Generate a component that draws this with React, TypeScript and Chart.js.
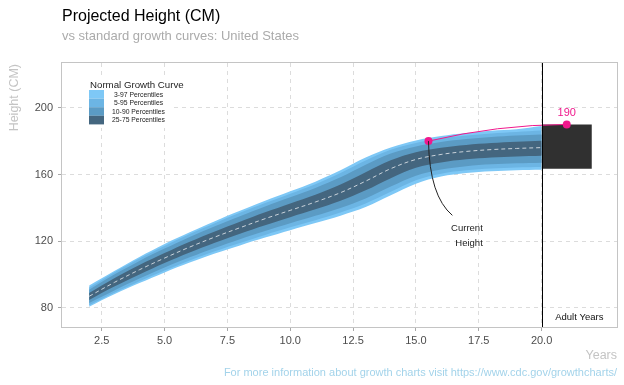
import React, { useEffect, useRef } from "react";
import { Chart, registerables } from "chart.js";

Chart.register(...registerables);

// ---------- data ----------
const AGES = [2, 3, 4, 5, 6, 7, 8, 9, 10, 11, 12, 13, 14, 15, 16, 17, 18, 19, 20];
const P3 = [80.8, 88.2, 94.9, 101.3, 107.2, 112.6, 117.5, 122.2, 126.6, 130.9, 135.3, 140.5, 147.5, 154.5, 158.8, 160.9, 162.0, 162.6, 162.9];
const P5 = [81.7, 89.1, 96.0, 102.5, 108.5, 114.0, 119.0, 123.8, 128.3, 132.6, 137.2, 142.6, 149.6, 156.6, 160.5, 162.5, 163.6, 164.2, 164.5];
const P10 = [83.0, 90.5, 97.6, 104.3, 110.4, 116.0, 121.2, 126.1, 130.7, 135.2, 139.9, 145.6, 152.8, 159.3, 163.0, 165.0, 166.1, 166.7, 167.1];
const P25 = [84.8, 92.8, 100.1, 107.0, 113.3, 119.1, 124.5, 129.6, 134.4, 139.1, 144.2, 150.5, 157.8, 164.0, 167.2, 169.1, 170.2, 170.8, 171.2];
const P50 = [87.0, 95.3, 102.9, 109.9, 116.5, 122.5, 128.1, 133.5, 138.5, 143.5, 149.1, 156.0, 163.5, 169.0, 172.0, 173.8, 174.9, 175.6, 176.1];
const P75 = [89.0, 97.8, 105.7, 112.9, 119.7, 125.9, 131.7, 137.3, 142.6, 147.9, 154.0, 161.3, 168.5, 173.3, 176.0, 177.7, 178.8, 179.6, 180.2];
const P90 = [90.9, 100.0, 108.2, 115.6, 122.6, 129.0, 135.0, 140.8, 146.3, 151.9, 158.3, 165.8, 172.5, 176.8, 179.4, 181.2, 182.4, 183.3, 184.0];
const P95 = [92.2, 101.3, 109.7, 117.2, 124.3, 130.8, 137.0, 142.9, 148.5, 154.2, 160.9, 168.4, 174.8, 178.9, 181.5, 183.3, 184.6, 185.5, 186.3];
const P97 = [93.5, 102.2, 110.6, 118.4, 125.4, 132.0, 138.2, 144.2, 149.9, 155.7, 162.5, 170.1, 176.2, 180.4, 183.0, 184.8, 186.2, 187.1, 189.0];

const CURRENT_AGE = 15.5;
const CURRENT_HEIGHT = 180;
const PROJECTED_AGE = 21;
const PROJECTED_HEIGHT = 190;

const ADULT_AGES = [20, 22];
const ADULT_LOW = [163.5, 163.5];
const ADULT_HIGH = [190, 190];

const X_TICKS = [2.5, 5, 7.5, 10, 12.5, 15, 17.5, 20];
const Y_TICKS = [80, 120, 160, 200];

const LEGEND_LABELS = ["3-97 Percentiles", "5-95 Percentiles", "10-90 Percentiles", "25-75 Percentiles"];
const BAND_COLORS = ["#7ec8f6", "#6cb5e4", "#5b9bc4", "#44667f"];

const PINK = "#f0188c";
const FONT = "'Liberation Sans', Arial, sans-serif";

const pts = (xs: number[], ys: number[]) => xs.map((x, i) => ({ x, y: ys[i] }));

export default function App() {
  const ref = useRef<HTMLCanvasElement | null>(null);

  useEffect(() => {
    document.body.style.margin = "0";
    const canvas = ref.current;
    if (!canvas) return;

    const base = {
      pointRadius: 0,
      borderWidth: 0,
      tension: 0.35,
    };

    const PINK_INDEX = 11;

    const overlay = {
      id: "overlay",
      beforeDatasetDraw(chart: any, args: any) {
        if (args.index !== PINK_INDEX) return;
        const { ctx, scales } = chart;
        const x1 = scales.x.getPixelForValue(CURRENT_AGE);
        const y1 = scales.y.getPixelForValue(CURRENT_HEIGHT);
        const x2 = scales.x.getPixelForValue(PROJECTED_AGE);
        const y2 = scales.y.getPixelForValue(PROJECTED_HEIGHT);
        ctx.save();
        ctx.strokeStyle = PINK;
        ctx.lineWidth = 1;
        ctx.beginPath();
        ctx.moveTo(x1, y1);
        ctx.quadraticCurveTo((x1 + x2) / 2, (y1 + y2) / 2 - 8, x2, y2);
        ctx.stroke();
        ctx.restore();
      },
      afterDatasetsDraw(chart: any) {
        const { ctx, scales, chartArea } = chart;
        const sx = scales.x, sy = scales.y;
        ctx.save();
        const vx = Math.round(sx.getPixelForValue(20)) + 0.5;
        ctx.strokeStyle = "#000";
        ctx.lineWidth = 1;
        ctx.beginPath();
        ctx.moveTo(vx, chartArea.top);
        ctx.lineTo(vx, chartArea.bottom);
        ctx.stroke();

        const cx = sx.getPixelForValue(CURRENT_AGE);
        const cy = sy.getPixelForValue(CURRENT_HEIGHT);
        const ex = sx.getPixelForValue(16.45);
        const ey = sy.getPixelForValue(135.5);
        ctx.strokeStyle = "#222";
        ctx.beginPath();
        ctx.moveTo(cx, cy);
        ctx.quadraticCurveTo(cx + 1, cy + 55, ex, ey);
        ctx.stroke();

        ctx.fillStyle = "#222";
        ctx.font = `9.5px ${FONT}`;
        ctx.textAlign = "right";
        ctx.textBaseline = "middle";
        const lx = sx.getPixelForValue(17.66);
        ctx.fillText("Current", lx, sy.getPixelForValue(127.5));
        ctx.fillText("Height", lx, sy.getPixelForValue(118.6));

        ctx.textAlign = "center";
        ctx.fillStyle = "#111";
        ctx.fillText("Adult Years", sx.getPixelForValue(21.5), sy.getPixelForValue(74.6));

        ctx.fillStyle = PINK;
        ctx.font = `11px ${FONT}`;
        ctx.fillText(String(PROJECTED_HEIGHT), sx.getPixelForValue(PROJECTED_AGE), sy.getPixelForValue(PROJECTED_HEIGHT) - 11);
        ctx.restore();
      },
      afterDraw(chart: any) {
        const { ctx, chartArea } = chart;
        ctx.save();
        ctx.strokeStyle = "#c4c4c4";
        ctx.lineWidth = 1;
        ctx.strokeRect(chartArea.left - 0.5, chartArea.top - 0.5, chartArea.right - chartArea.left + 1, chartArea.bottom - chartArea.top + 1);

        const L = chartArea.left;
        const T = chartArea.top;
        ctx.fillStyle = "#fff";
        ctx.fillRect(L + 24, T + 16, 84, 49);
        ctx.fillStyle = "#222";
        ctx.font = `9.7px ${FONT}`;
        ctx.textAlign = "left";
        ctx.textBaseline = "alphabetic";
        ctx.fillText("Normal Growth Curve", L + 28, T + 25);
        const bh = 8.6;
        LEGEND_LABELS.forEach((lab, i) => {
          ctx.fillStyle = BAND_COLORS[i];
          ctx.fillRect(L + 27, T + 27 + i * bh, 15, bh);
          ctx.fillStyle = "#222";
          ctx.font = `6.8px ${FONT}`;
          ctx.textAlign = "center";
          ctx.textBaseline = "middle";
          ctx.fillText(lab, L + 76.5, T + 27 + i * bh + bh / 2 + 0.5);
        });

        ctx.textAlign = "left";
        ctx.textBaseline = "alphabetic";
        ctx.fillStyle = "#000";
        ctx.font = `16px ${FONT}`;
        ctx.fillText("Projected Height (CM)", L, 21);
        ctx.fillStyle = "#ababab";
        ctx.font = `13px ${FONT}`;
        ctx.fillText("vs standard growth curves: United States", L, 40);

        ctx.fillStyle = "#c4c4c4";
        ctx.font = `12.5px ${FONT}`;
        ctx.textAlign = "right";
        ctx.fillText("Years", chartArea.right, 359);
        ctx.save();
        ctx.translate(18, chartArea.top + 1);
        ctx.rotate(-Math.PI / 2);
        ctx.textAlign = "right";
        ctx.fillText("Height (CM)", 0, 0);
        ctx.restore();

        ctx.fillStyle = "#a3d3ea";
        ctx.font = `11px ${FONT}`;
        ctx.textAlign = "right";
        ctx.fillText("For more information about growth charts visit https://www.cdc.gov/growthcharts/", chartArea.right, 376);
        ctx.restore();
      },
    };

    const chart = new Chart(canvas, {
      type: "line",
      data: {
        datasets: [
          { ...base, data: pts(AGES, P97), fill: { target: 1 }, backgroundColor: BAND_COLORS[0], order: 10 },
          { ...base, data: pts(AGES, P3), fill: false, order: 10 },
          { ...base, data: pts(AGES, P95), fill: { target: 3 }, backgroundColor: BAND_COLORS[1], order: 9 },
          { ...base, data: pts(AGES, P5), fill: false, order: 9 },
          { ...base, data: pts(AGES, P90), fill: { target: 5 }, backgroundColor: BAND_COLORS[2], order: 8 },
          { ...base, data: pts(AGES, P10), fill: false, order: 8 },
          { ...base, data: pts(AGES, P75), fill: { target: 7 }, backgroundColor: BAND_COLORS[3], order: 7 },
          { ...base, data: pts(AGES, P25), fill: false, order: 7 },
          { ...base, data: pts(AGES, P50), fill: false, borderWidth: 1, borderColor: "#c9d2da", borderDash: [4, 3], order: 6 },
          { pointRadius: 0, borderWidth: 0, tension: 0, data: pts(ADULT_AGES, ADULT_HIGH), fill: { target: 10 }, backgroundColor: "#303030", order: 5 },
          { pointRadius: 0, borderWidth: 0, tension: 0, data: pts(ADULT_AGES, ADULT_LOW), fill: false, order: 5 },
          {
            data: [{ x: CURRENT_AGE, y: CURRENT_HEIGHT }, { x: PROJECTED_AGE, y: PROJECTED_HEIGHT }],
            showLine: false,
            pointRadius: 4,
            pointBackgroundColor: PINK,
            pointBorderColor: PINK,
            pointBorderWidth: 0,
            fill: false,
            order: 1,
          },
        ] as any,
      },
      options: {
        animation: false,
        responsive: false,
        layout: { padding: { top: 63, right: 7, left: 0, bottom: 0 } },
        plugins: { legend: { display: false }, tooltip: { enabled: false }, title: { display: false } },
        scales: {
          x: {
            type: "linear",
            min: 0.92,
            max: 23,
            afterFit: (s: any) => { s.height = 58; },
            afterBuildTicks: (s: any) => { s.ticks = X_TICKS.map((v) => ({ value: v })); },
            ticks: {
              callback: (v: any) => Number(v).toFixed(1),
              color: "#4d4d4d",
              font: { family: FONT, size: 11 },
              padding: 3,
              maxRotation: 0,
            },
            grid: { color: "#dcdcdc", lineWidth: 1, tickLength: 4, tickColor: "#a8a8a8" },
            border: { display: false, dash: [4, 4] },
          },
          y: {
            type: "linear",
            min: 68.6,
            max: 226.8,
            afterFit: (s: any) => { s.width = 62; },
            afterBuildTicks: (s: any) => { s.ticks = Y_TICKS.map((v) => ({ value: v })); },
            ticks: {
              color: "#4d4d4d",
              font: { family: FONT, size: 11 },
              padding: 5,
            },
            grid: { color: "#dcdcdc", lineWidth: 1, tickLength: 4, tickColor: "#a8a8a8" },
            border: { display: false, dash: [4, 4] },
          },
        },
      },
      plugins: [overlay],
    } as any);

    return () => chart.destroy();
  }, []);

  return (
    <div style={{ position: "relative", width: 624, height: 385 }}>
      <canvas ref={ref} width={624} height={385} style={{ display: "block" }} />
    </div>
  );
}
